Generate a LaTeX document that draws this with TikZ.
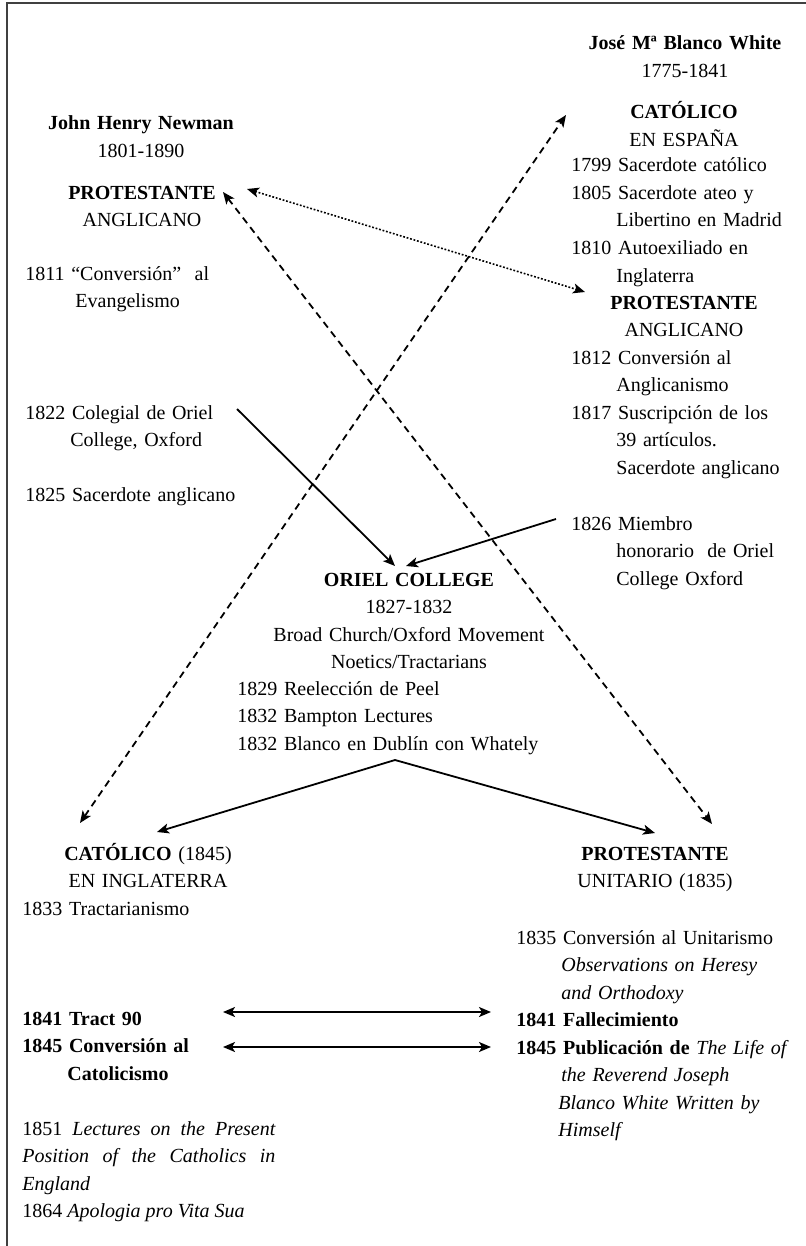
\documentclass[tikz,border=0pt]{standalone}
\usepackage{fontspec}
\setmainfont{Liberation Serif}
\usetikzlibrary{arrows.meta}
\tikzstyle{every link} = []
\tikzstyle{link} = [>={Stealth[length=6pt,width=5pt,inset=1.5pt]}, draw, line width=0.9pt, every link]
\tikzstyle{dashlink} = [link, dash pattern=on 3.5pt off 2.5pt]
\tikzstyle{dotlink} = [link, line width=0.8pt, dash pattern=on 0.9pt off 0.9pt]
\tikzstyle{heading} = [inner sep=0pt, anchor=base, text width=180pt, align=center]
\tikzstyle{entry} = [inner sep=0pt, anchor=base west, text width=220pt, align=left]
\tikzstyle{justentry} = [inner sep=0pt, anchor=base west, text width=126.5pt, align=justify]
\newcommand{\indnt}{\hspace*{22.5pt}}

\begin{document}
\begin{tikzpicture}[x=0.5pt, y=-0.5pt, font=\fontsize{10pt}{13.75pt}\selectfont]
        \useasboundingbox (0,0) rectangle (806,1246);
        \draw[line width=1.2pt, black!75] (7,1246) -- (7,3) -- (806,3);

        % Newman
        \node[heading] (jhnname) at (141,130) {\textbf{John Henry Newman}\\1801-1890};
        \node[heading] (jhnprot) at (142,199) {\textbf{PROTESTANTE}\\ANGLICANO};
        \node[entry] (jhn1811) at (25,280) {1811 “Conversión”\ \ al\\\hspace*{25pt}Evangelismo};
        \node[entry] (jhn1822) at (25,419) {1822 Colegial de Oriel\\\indnt College, Oxford\\[13.75pt]1825 Sacerdote anglicano};
        \node[heading] (jhncat) at (148,860) {\textbf{CATÓLICO} (1845)\\EN INGLATERRA};
        \node[entry] (jhn1833) at (22,915) {1833 Tractarianismo};
        \node[entry] (jhn1841) at (22,1025) {\textbf{1841 Tract 90}\\\textbf{1845 Conversión al}\\\indnt\textbf{Catolicismo}};
        \node[justentry] (jhnlect) at (22,1135) {\tolerance=10000 1851 \textit{Lectures on the Present Position of the Catholics in England}\par 1864 \textit{Apologia pro Vita Sua}};

        % Blanco White
        \node[heading] (bwname) at (685,50) {\textbf{José Mª Blanco White}\\1775-1841};
        \node[heading] (bwcat) at (684,119) {\textbf{CATÓLICO}\\EN ESPAÑA};
        \node[entry] (bwlist1) at (571,172) {1799 Sacerdote católico\\1805 Sacerdote ateo y\\\indnt Libertino en Madrid\\1810 Autoexiliado en\\\indnt Inglaterra};
        \node[heading] (bwprot) at (684,309) {\textbf{PROTESTANTE}\\ANGLICANO};
        \node[entry] (bwlist2) at (571,364) {1812 Conversión al\\\indnt Anglicanismo\\1817 Suscripción de los\\\indnt 39 artículos.\\\indnt Sacerdote anglicano};
        \node[entry] (bworiel) at (571,530) {1826 Miembro\\\indnt honorario\ \ de Oriel\\\indnt College Oxford};
        \node[heading] (bwunit) at (655,860) {\textbf{PROTESTANTE}\\UNITARIO (1835)};
        \node[entry] (bw1835) at (516,944) {1835 Conversión al Unitarismo\\\indnt\textit{Observations on Heresy}\\\indnt\textit{and Orthodoxy}\\\textbf{1841 Fallecimiento}\\\textbf{1845 Publicación de} \textit{The Life of}\\\indnt\textit{the Reverend Joseph}\\\hspace*{21pt}\textit{Blanco White Written by}\\\hspace*{21pt}\textit{Himself}};

        % Oriel
        \node[heading] (oriel) at (409,586) {\textbf{ORIEL COLLEGE}\\1827-1832\\Broad Church/Oxford Movement\\Noetics/Tractarians};
        \node[entry] (orielev) at (237,695) {1829 Reelección de Peel\\1832 Bampton Lectures\\1832 Blanco en Dublín con Whately};

        % arrow ends
        \coordinate (catlow) at (80,823);
        \coordinate (catup) at (566,115);
        \coordinate (protup) at (223,192);
        \coordinate (protlow) at (712,824);
        \coordinate (anglleft) at (247,189);
        \coordinate (anglright) at (585,292);
        \coordinate (colegial) at (237,409);
        \coordinate (miembro) at (556,519);
        \coordinate (orieltipl) at (395,566);
        \coordinate (orieltipr) at (406,566);
        \coordinate (fork) at (395,760);
        \coordinate (forkl) at (157,832);
        \coordinate (forkr) at (655,833);
        \coordinate (tractl) at (223,1012);
        \coordinate (tractr) at (491,1012);
        \coordinate (convl) at (223,1047);
        \coordinate (convr) at (491,1047);

        \path[dashlink, <->] (catlow) -- (catup);
        \path[dashlink, <->] (protup) -- (protlow);
        \path[dotlink, <->] (anglleft) -- (anglright);
        \path[link, ->] (colegial) -- (orieltipl);
        \path[link, ->] (miembro) -- (orieltipr);
        \path[link, ->] (fork) -- (forkl);
        \path[link, ->] (fork) -- (forkr);
        \path[link, <->] (tractl) -- (tractr);
        \path[link, <->] (convl) -- (convr);
\end{tikzpicture}
\end{document}
